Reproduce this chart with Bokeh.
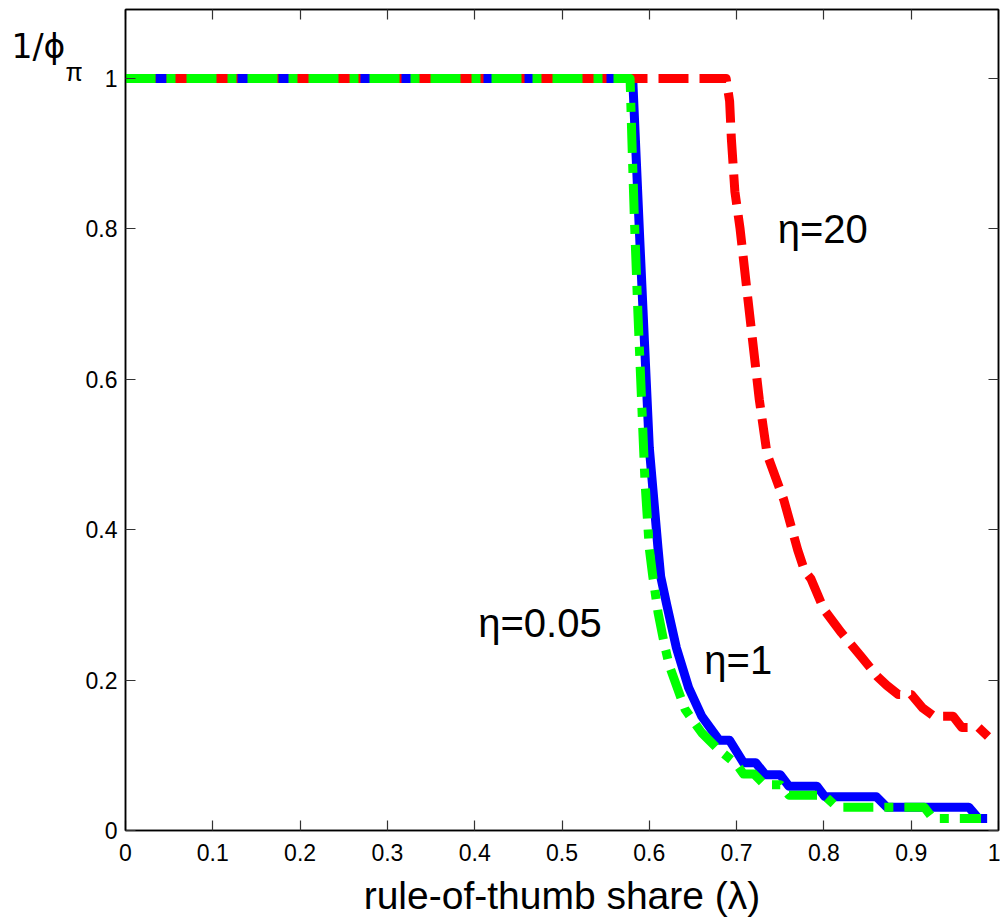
from bokeh.plotting import figure
from bokeh.layouts import row
from bokeh.models import Range1d, LinearAxis, FixedTicker, Label
from bokeh.embed import file_html
from bokeh.resources import INLINE

# eta = 1 (blue, solid)
lam_eta1 = [0.0, 0.581, 0.589, 0.600, 0.610, 0.613, 0.620, 0.631, 0.645, 0.660, 0.680,
            0.692, 0.708, 0.722, 0.733, 0.750, 0.760, 0.792, 0.801, 0.860, 0.872, 0.966, 0.977, 0.987]
phi_eta1 = [1.0, 1.0, 0.788, 0.509, 0.375, 0.338, 0.300, 0.243, 0.190, 0.152, 0.120,
            0.120, 0.090, 0.090, 0.074, 0.074, 0.059, 0.059, 0.045, 0.045, 0.031, 0.031, 0.016, 0.016]

# eta = 20 (red, dashed)
lam_eta20 = [0.0, 0.688, 0.692, 0.694, 0.698, 0.704, 0.713, 0.726, 0.735, 0.754, 0.770, 0.778,
             0.785, 0.800, 0.820, 0.843, 0.861, 0.872, 0.885, 0.900, 0.913, 0.926, 0.948, 0.958,
             0.977, 0.988]
phi_eta20 = [1.0, 1.0, 0.970, 0.920, 0.850, 0.800, 0.706, 0.573, 0.500, 0.440, 0.373, 0.345,
             0.335, 0.294, 0.263, 0.231, 0.205, 0.193, 0.181, 0.181, 0.163, 0.152, 0.152, 0.137,
             0.137, 0.125]

# eta = 0.05 (green, dash-dot)
lam_eta005 = [0.0, 0.578, 0.580, 0.583, 0.587, 0.595, 0.600, 0.604, 0.610, 0.617, 0.623, 0.641,
              0.660, 0.679, 0.700, 0.708, 0.720, 0.732, 0.750, 0.760, 0.800, 0.815, 0.915, 0.925, 0.980]
phi_eta005 = [1.0, 1.0, 0.920, 0.810, 0.687, 0.465, 0.375, 0.338, 0.290, 0.249, 0.219, 0.161,
              0.130, 0.108, 0.088, 0.075, 0.075, 0.061, 0.061, 0.047, 0.047, 0.031, 0.031, 0.016, 0.016]

x_ticks = [0, 0.1, 0.2, 0.3, 0.4, 0.5, 0.6, 0.7, 0.8, 0.9, 1]
x_tick_labels = ["0", "0.1", "0.2", "0.3", "0.4", "0.5", "0.6", "0.7", "0.8", "0.9", "1"]
y_ticks = [0, 0.2, 0.4, 0.6, 0.8, 1]
y_tick_labels = ["0", "0.2", "0.4", "0.6", "0.8", "1"]

FONT = "Liberation Sans"
TOP = 9
BOTTOM = 93
H = 923

yr = Range1d(0, 1.0918)

p = figure(width=918, height=H, output_backend="svg", toolbar_location=None,
           x_range=Range1d(0, 1), y_range=yr,
           min_border_left=41, min_border_right=2, min_border_top=TOP, min_border_bottom=BOTTOM,
           x_axis_label="rule-of-thumb share (λ)")
p.grid.visible = False
p.background_fill_color = "white"
p.border_fill_color = "white"
p.outline_line_color = "black"
p.outline_line_width = 1.5
p.outline_line_alpha = 1.0

def style_axis(ax, ticks, labels, show_labels=True):
    ax.ticker = FixedTicker(ticks=ticks)
    ax.major_tick_in = 10
    ax.major_tick_out = 0
    ax.minor_tick_in = 0
    ax.minor_tick_out = 0
    ax.major_tick_line_color = "#333333"
    ax.major_tick_line_width = 1.2
    ax.axis_line_color = "black"
    ax.axis_line_width = 1.5
    ax.major_label_text_font = FONT
    if show_labels:
        ax.major_label_overrides = {t: l for t, l in zip(ticks, labels)}
        ax.major_label_text_color = "black"
        ax.major_label_text_font_size = "23px"
    else:
        # tick marks only: labels are not drawn
        ax.major_label_text_color = None
        ax.major_label_text_font_size = "1px"
        ax.major_label_standoff = 0

xa = p.xaxis[0]
style_axis(xa, x_ticks, x_tick_labels)
xa.major_label_standoff = 13
xa.axis_label_text_font = FONT
xa.axis_label_text_font_size = "39px"
xa.axis_label_text_font_style = "normal"
xa.axis_label_text_color = "black"
xa.axis_label_standoff = 10

ya = p.yaxis[0]
style_axis(ya, y_ticks, y_tick_labels)
ya.major_label_standoff = 8

top_ax = LinearAxis()
style_axis(top_ax, x_ticks, x_tick_labels, show_labels=False)
p.add_layout(top_ax, "above")
right_ax = LinearAxis()
style_axis(right_ax, y_ticks, y_tick_labels, show_labels=False)
p.add_layout(right_ax, "right")

p.line(lam_eta1, phi_eta1, line_color="#0000ff", line_width=9, line_join="round")
p.line(lam_eta20, phi_eta20, line_color="#ff0000", line_width=9, line_dash="30 11",
       line_join="round")
p.line(lam_eta005, phi_eta005, line_color="#00ff00", line_width=9, line_dash="30 11 9 11",
       line_join="round")

def add_label(fig, x, y, text, size, font=FONT):
    fig.add_layout(Label(x=x, y=y, text=text, text_font=font, text_font_size=size,
                         text_color="black", text_baseline="alphabetic", text_align="left"))

add_label(p, 0.747, 0.800, "η=20", "40px")
add_label(p, 0.404, 0.276, "η=0.05", "40px")
add_label(p, 0.663, 0.227, "η=1", "40px")

# narrow strip on the left that carries the y-axis title 1/ϕ_π
q = figure(width=82, height=H, output_backend="svg", toolbar_location=None,
           x_range=Range1d(0, 82), y_range=yr,
           min_border_left=0, min_border_right=0, min_border_top=TOP, min_border_bottom=BOTTOM,
           x_axis_type=None, y_axis_type=None)
q.grid.visible = False
q.outline_line_color = None
q.background_fill_color = "white"
q.border_fill_color = "white"
add_label(q, 11, 1.0426, "1/ϕ", "33px", "DejaVu Sans")
add_label(q, 65, 1.009, "π", "25px")

layout = row(q, p, spacing=0)
open("out.html", "w").write(file_html(layout, INLINE))
